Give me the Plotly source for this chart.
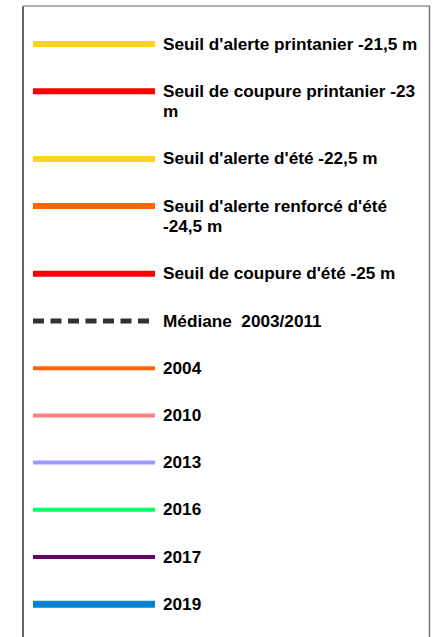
"""
Légende des niveaux de nappe (seuils et années de référence).
Redessine la légende seule, comme un graphique plotly sans axes.
"""
import plotly.graph_objects as go

# entrées de légende (ordre d'affichage), <br> = retour à la ligne
labels = [
    "Seuil d'alerte printanier -21,5 m",
    "Seuil de coupure printanier -23<br>m",
    "Seuil d'alerte d'été -22,5 m",
    "Seuil d'alerte renforcé d'été<br>-24,5 m",
    "Seuil de coupure d'été -25 m",
    "Médiane\u00a0 2003/2011",
    "2004",
    "2010",
    "2013",
    "2016",
    "2017",
    "2019",
]

# styles des traits
colors = [
    "#FFD320", "#FF0000", "#FFD320", "#FF6600", "#FF0000", "#333333",
    "#FF6600", "#FF8080", "#9999FF", "#00FF66", "#660066", "#0084D1",
]
widths = [6, 6, 6, 6, 6, 5, 4, 4, 4, 4, 4, 7]
dashes = ["solid"] * 5 + ["11px,6.5px"] + ["solid"] * 6

W, H = 433, 637
SAMPLE_X0, SAMPLE_X1 = 33, 155
TEXT_X = 162
FIRST_Y = 44
STEP = 47.2
WRAP = 20.5
FONT_SIZE = 17.2

fig = go.Figure()

y = FIRST_Y
annotations = []
for i, label in enumerate(labels):
    fig.add_trace(go.Scatter(
        x=[SAMPLE_X0, SAMPLE_X1],
        y=[y, y],
        mode="lines",
        line=dict(color=colors[i], width=widths[i], dash=dashes[i]),
        hoverinfo="skip",
        showlegend=False,
    ))
    parts = label.split("<br>")
    for j, part in enumerate(parts):
        annotations.append(dict(
            x=TEXT_X, y=y - 0.5 + j * WRAP,
            xref="x", yref="y",
            xanchor="left", yanchor="middle",
            text=f"<b>{part}</b>",
            showarrow=False,
            borderpad=0,
            font=dict(family="Liberation Sans", size=FONT_SIZE, color="#000000"),
        ))
    y += STEP + WRAP * (len(parts) - 1)


def px_x(v):
    return v / W


def px_y(v):
    return 1 - v / H


# cadre de la légende (pas de bord bas visible)
frame = dict(xref="paper", yref="paper", type="line")
shapes = [
    dict(frame, x0=px_x(23), x1=px_x(23), y0=px_y(6), y1=px_y(H + 5),
         line=dict(color="#333333", width=1.5)),
    dict(frame, x0=px_x(23), x1=px_x(430), y0=px_y(6), y1=px_y(6),
         line=dict(color="#999999", width=1.5)),
    dict(frame, x0=px_x(429.5), x1=px_x(429.5), y0=px_y(6), y1=px_y(H + 5),
         line=dict(color="#777777", width=1.5)),
]

fig.update_layout(
    width=W,
    height=H,
    margin=dict(l=0, r=0, t=0, b=0),
    paper_bgcolor="white",
    plot_bgcolor="white",
    xaxis=dict(range=[0, W], visible=False, fixedrange=True),
    yaxis=dict(range=[H, 0], visible=False, fixedrange=True),
    annotations=annotations,
    shapes=shapes,
)

# pas de marge autour du graphique dans la page
fig.write_html(
    "out.html",
    config={"displayModeBar": False},
    post_script="document.body.style.margin='0';document.body.style.overflow='hidden';",
)
